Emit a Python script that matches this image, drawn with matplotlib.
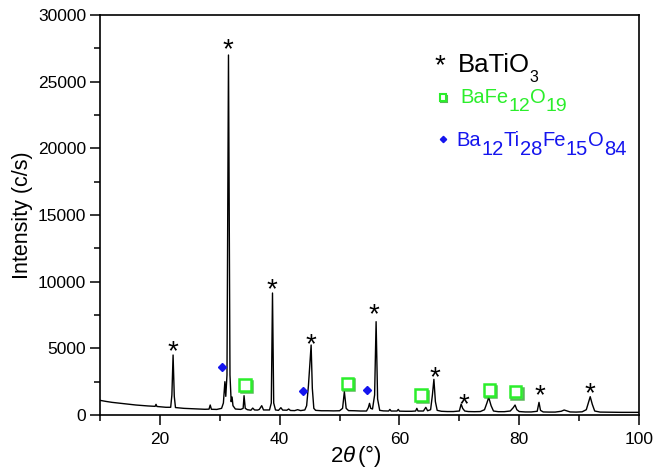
import matplotlib
matplotlib.use("Agg")
import matplotlib.pyplot as plt
import matplotlib.patheffects as pe
from matplotlib.ticker import MultipleLocator

plt.rcParams['font.family'] = ['Liberation Sans', 'DejaVu Sans']
plt.rcParams['mathtext.fontset'] = 'custom'
plt.rcParams['mathtext.rm'] = 'Liberation Sans'
plt.rcParams['mathtext.it'] = 'Liberation Sans:italic'

# XRD pattern (2theta in degrees, intensity in c/s)
two_theta = [
    10.0, 11.0, 12.0, 14.0, 16.0, 18.0, 19.2, 19.35, 19.5, 20.0, 21.0, 21.8,
    22.0, 22.2, 22.4, 22.6, 24.0, 26.0, 27.5, 28.2, 28.4, 28.6, 29.5, 30.3,
    30.6, 30.85, 31.0, 31.2, 31.45, 31.7, 31.9, 32.05, 32.2, 32.6, 33.5, 33.9,
    34.05, 34.25, 34.6, 35.2, 35.5, 35.8, 36.3, 36.6, 37.0, 37.3, 38.3, 38.6,
    38.8, 39.0, 39.3, 39.8, 40.2, 40.5, 41.2, 41.5, 41.8, 42.5, 43.0, 43.5,
    44.2, 44.5, 44.8, 45.0, 45.25, 45.45, 45.7, 46.0, 47.0, 48.0, 49.0, 50.0,
    50.5, 50.8, 51.1, 51.5, 52.5, 53.5, 54.5, 54.8, 55.0, 55.2, 55.5, 55.85,
    56.1, 56.35, 56.7, 57.3, 58.2, 58.4, 58.6, 59.6, 59.8, 60.0, 61.0, 62.0,
    62.7, 62.9, 63.1, 64.0, 64.4, 64.7, 65.2, 65.5, 65.75, 66.0, 66.3, 67.0,
    68.0, 69.0, 70.0, 70.3, 70.55, 70.9, 71.5, 72.5, 73.5, 74.2, 74.6, 74.9,
    75.3, 75.7, 76.5, 77.5, 78.5, 79.0, 79.3, 79.6, 80.0, 81.0, 82.0, 83.0,
    83.3, 83.55, 84.0, 85.0, 86.0, 87.0, 87.5, 88.0, 88.5, 89.5, 90.5, 91.2,
    91.6, 91.85, 92.2, 92.6, 93.5, 95.0, 97.0, 100.0,
]
intensity = [
    1100, 1020, 950, 850, 750, 680, 650, 800, 640, 620, 580, 580,
    1500, 4500, 1400, 560, 500, 460, 430, 440, 750, 430, 420, 500,
    900, 2500, 1400, 3000, 27000, 3000, 1000, 1350, 700, 450, 420, 500,
    1450, 500, 400, 360, 520, 380, 370, 420, 700, 380, 380, 900,
    9150, 900, 380, 350, 550, 370, 360, 450, 340, 330, 400, 330,
    380, 700, 2200, 3600, 5250, 2000, 500, 350, 320, 320, 310, 320,
    500, 1750, 500, 330, 320, 300, 300, 550, 875, 500, 450, 1500,
    7000, 1200, 350, 310, 300, 420, 300, 300, 420, 290, 280, 280,
    300, 500, 300, 300, 575, 320, 400, 1500, 2675, 1000, 350, 280,
    260, 260, 300, 825, 500, 300, 260, 250, 260, 400, 900, 1325,
    700, 300, 250, 250, 300, 550, 750, 400, 260, 230, 230, 280,
    950, 350, 230, 220, 220, 280, 375, 300, 230, 220, 240, 400,
    1000, 1375, 800, 300, 220, 210, 200, 200,
]

# phase markers (position of each symbol)
batio3_x = [22.2, 31.3, 38.75, 45.2, 55.8, 65.9, 70.7, 83.5, 91.8]
batio3_y = [5120, 27750, 9750, 5675, 7875, 3175, 1125, 1800, 2000]
bafe_x = [34.2, 51.3, 63.6, 75.0, 79.4]
bafe_y = [2250, 2375, 1500, 1875, 1750]
batife_x = [30.3, 43.9, 54.6]
batife_y = [3625, 1825, 1875]

# formulas as (text, is_subscript) pieces
batio3_label = [('BaTiO', False), ('3', True)]
bafe_label = [('BaFe', False), ('12', True), ('O', False), ('19', True)]
batife_label = [('Ba', False), ('12', True), ('Ti', False), ('28', True),
                ('Fe', False), ('15', True), ('O', False), ('84', True)]

green = '#2bee2b'
blue = '#1515ee'


def formula(ax, x, y, pieces, color, size, sub_size, drop):
    prev = ax.text(x, y, pieces[0][0], transform=ax.transAxes, fontsize=size,
                   color=color, va='baseline', ha='left')
    for txt, sub in pieces[1:]:
        prev = ax.annotate(txt, xy=(1, y), xycoords=(prev, 'axes fraction'),
                           xytext=(0, -drop if sub else 0), textcoords='offset points',
                           fontsize=sub_size if sub else size, color=color,
                           va='baseline', ha='left')


fig = plt.figure(figsize=(6.55, 4.69), dpi=100)
ax = fig.add_axes([0.1527, 0.1151, 0.8229, 0.8529])

ax.plot(two_theta, intensity, color='black', lw=1.0)

star_fs = 20
star_drop = -0.45 * star_fs
for x, y in zip(batio3_x, batio3_y):
    ax.annotate('*', xy=(x, y), xytext=(0, star_drop), textcoords='offset points',
                ha='center', va='baseline', fontsize=star_fs, color='black')

shadow = [pe.SimpleLineShadow(offset=(1, -1), shadow_color='#119911', alpha=0.7), pe.Normal()]
ax.plot(bafe_x, bafe_y, ls='none', marker='s', ms=8, mfc='white', mec=green, mew=1.8,
        path_effects=shadow)
ax.plot(batife_x, batife_y, ls='none', marker='D', ms=4.2, color=blue)

# legend drawn by hand, as in the figure
ax.annotate('*', xy=(0.631, 0.886), xycoords='axes fraction', xytext=(0, star_drop),
            textcoords='offset points', ha='center', va='baseline', fontsize=star_fs)
formula(ax, 0.664, 0.8575, batio3_label, 'black', 18.5, 11.5, 7.5)
ax.plot([0.636], [0.794], transform=ax.transAxes, marker='s', ms=4.5, mfc='white',
        mec=green, mew=1.5, ls='none', path_effects=shadow)
formula(ax, 0.668, 0.78, bafe_label, green, 14.5, 14, 6)
ax.plot([0.636], [0.69], transform=ax.transAxes, marker='D', ms=3.2, color=blue, ls='none')
formula(ax, 0.662, 0.6725, batife_label, blue, 14.5, 14.5, 6.5)

ax.set_xlim(10, 100)
ax.set_ylim(0, 30000)
ax.xaxis.set_major_locator(MultipleLocator(20))
ax.xaxis.set_minor_locator(MultipleLocator(10))
ax.yaxis.set_major_locator(MultipleLocator(5000))
ax.yaxis.set_minor_locator(MultipleLocator(2500))
ax.tick_params(which='major', direction='out', length=7, width=1.1, labelsize=12.5, pad=3)
ax.tick_params(which='minor', direction='out', length=4, width=1.1)
ax.tick_params(axis='x', which='major', pad=5)
for s in ax.spines.values():
    s.set_linewidth(1.2)

ax.set_xlabel('2$\\theta\\,$(°)', fontsize=16)
ax.xaxis.set_label_coords(0.475, -0.07)
ax.set_ylabel('Intensity (c/s)', fontsize=15.5)
ax.yaxis.set_label_coords(-0.124, 0.5)

fig.savefig('out.png', dpi=100)
